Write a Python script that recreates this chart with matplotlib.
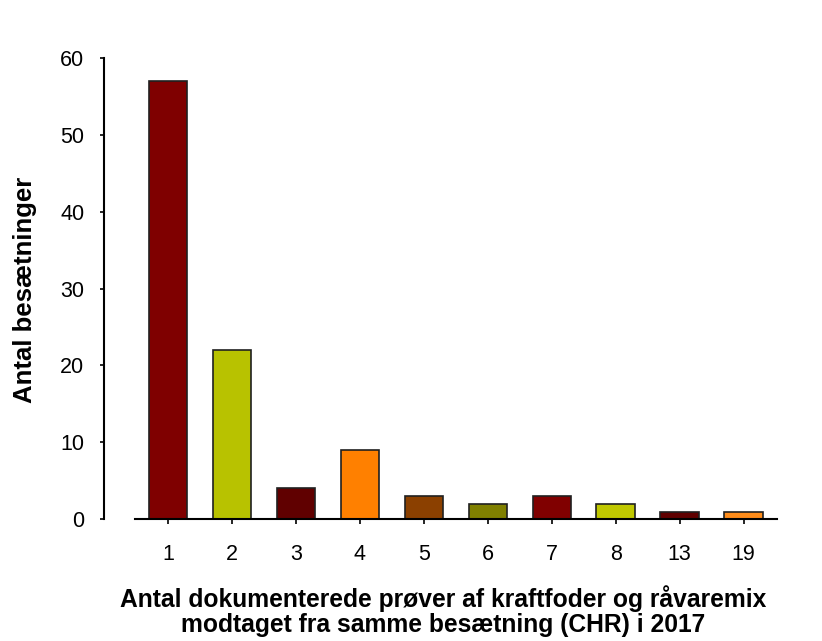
import numpy as np
from matplotlib import pyplot as plt

plt.rcParams['font.family'] = ['Liberation Sans', 'DejaVu Sans']

# data
kategorier = ['1', '2', '3', '4', '5', '6', '7', '8', '13', '19']
antal = [57, 22, 4, 9, 3, 2, 3, 2, 1, 1]
farver = ['#7f0000', '#b8c200', '#600000', '#ff8000', '#8b4000',
          '#808000', '#800000', '#c0c800', '#600000', '#ff8c1a']

fig = plt.figure(figsize=(8.22, 6.41), dpi=100)


def main():
    ax = fig.add_axes([0.164, 0.19, 0.781, 0.7195])
    x = np.arange(len(kategorier))
    ax.bar(x, antal, width=0.6, color=farver, edgecolor='#202020', linewidth=1.2)

    ax.set_xlim(-0.52, len(kategorier) - 0.48)
    ax.set_ylim(0, 60)
    ax.set_yticks([0, 10, 20, 30, 40, 50, 60])
    ax.set_xticks(x)
    ax.set_xticklabels(kategorier)

    # akser
    ax.spines['top'].set_visible(False)
    ax.spines['right'].set_visible(False)
    ax.spines['left'].set_position(('outward', 22.3))
    for s in ('left', 'bottom'):
        ax.spines[s].set_linewidth(1.5)
    ax.tick_params(axis='y', direction='out', length=3, width=1.2,
                   labelsize=15.5, pad=11)
    ax.tick_params(axis='x', direction='out', length=3.6, width=1.2,
                   labelsize=15.5, pad=14)

    ax.set_ylabel('Antal besætninger', fontsize=18.5, fontweight='bold', va='center')
    ax.yaxis.set_label_coords(-0.171, 0.497)
    ax.set_xlabel('Antal dokumenterede prøver af kraftfoder og råvaremix\n'
                  'modtaget fra samme besætning (CHR) i 2017',
                  fontsize=17.7, fontweight='bold', va='center', linespacing=1.05)
    ax.xaxis.set_label_coords(0.481, -0.1996)

    fig.savefig('out.png', dpi=100)


if __name__ == '__main__':
    main()
